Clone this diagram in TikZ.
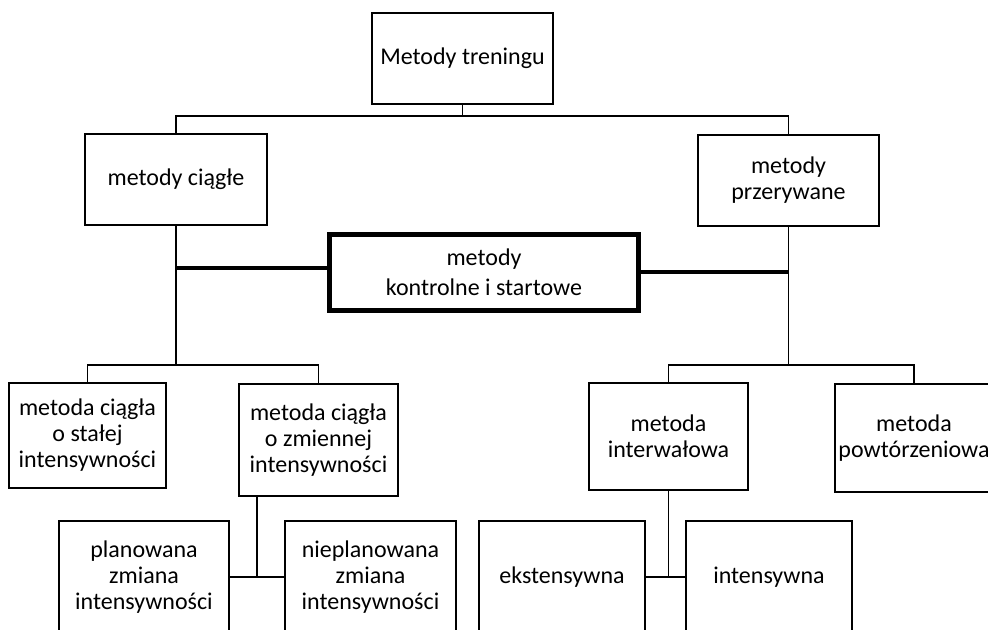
\documentclass[tikz,border=0pt]{standalone}
\usepackage{fontspec}
\setmainfont{Carlito}
\usetikzlibrary{calc}
\begin{document}
\begin{tikzpicture}[x=0.75pt,y=-0.75pt,
  bx/.style n args={2}{draw, line width=1.1pt, inner sep=0pt, align=center,
    minimum width=#1*0.75pt, minimum height=#2*0.75pt,
    font=\fontsize{18}{19.5}\selectfont},
  ln/.style={line width=1.1pt},
  thk/.style={line width=3.2pt}]
\useasboundingbox (0,0) rectangle (988,630);
\clip (0,0) rectangle (988,630);
% level 0
\node[bx={181}{91}] (top) at (462.5,58.5) {Metody treningu};
% level 1
\node[bx={182}{91}] (ciagle) at (176,179.5) {metody ciągłe};
\node[bx={181}{91}] (przer) at (788.5,180.5) {metody\\przerywane};
\node[bx={309}{76}, line width=3.2pt, font=\fontsize{18}{22.5}\selectfont] (kontr) at (484,272.5) {metody\\kontrolne i startowe};
% level 2
\node[bx={157}{105}] (stalej) at (87.5,435.5) {metoda ciągła\\o stałej\\intensywności};
\node[bx={159}{112}] (zmien) at (318.5,440) {metoda ciągła\\o zmiennej\\intensywności};
\node[bx={159}{107}] (interw) at (668.5,436.5) {metoda\\interwałowa};
\node[bx={158}{108}] (powt) at (914,438) {metoda\\powtórzeniowa};
% level 3
\node[bx={170}{112}] (plan) at (144,577) {planowana\\zmiana\\intensywności};
\node[bx={171}{112}] (niepl) at (370.5,577) {nieplanowana\\zmiana\\intensywności};
\node[bx={166}{112}] (ekst) at (562,577) {ekstensywna};
\node[bx={166}{112}] (inten) at (769,577) {intensywna};
% connectors
\coordinate (b1) at (0,116);
\draw[ln] (top.south) -- (top.south |- b1);
\draw[ln] (ciagle.north) -- (ciagle.north |- b1) -- (przer.north |- b1) -- (przer.north);
\coordinate (b2) at (0,365);
\draw[ln] (ciagle.south) -- (ciagle.south |- b2);
\draw[ln] (stalej.north) -- (stalej.north |- b2) -- (zmien.north |- b2) -- (zmien.north);
\draw[ln] (przer.south) -- (przer.south |- b2);
\draw[ln] (interw.north) -- (interw.north |- b2) -- (powt.north |- b2) -- (powt.north);
\coordinate (t1) at (0,268);
\coordinate (t2) at (0,272);
\draw[thk] (ciagle.south |- t1) -- (kontr.west |- t1);
\draw[thk] (kontr.east |- t2) -- (przer.south |- t2);
\coordinate (m1) at ($(plan.east)!0.5!(niepl.west)$);
\draw[ln] (plan.east) -- (niepl.west);
\draw[ln] (m1) -- (m1 |- zmien.south);
\draw[ln] (ekst.east) -- (inten.west);
\draw[ln] (interw.south) -- (interw.south |- ekst.east);
\end{tikzpicture}
\end{document}
